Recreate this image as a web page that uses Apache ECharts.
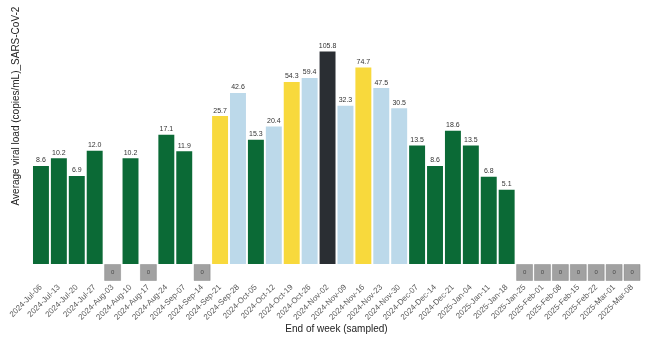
<!DOCTYPE html>
<html>
<head>
<meta charset="utf-8">
<script src="https://cdn.jsdelivr.net/npm/echarts@6/dist/echarts.min.js"></script>
<style>
  html, body { margin: 0; padding: 0; background: #fff; }
  #chart { width: 663px; height: 358px; }
</style>
</head>
<body>
<div id="chart"></div>
<script>
// Weekly sampling dates (end of week)
const weeks = ['2024-Jul-06','2024-Jul-13','2024-Jul-20','2024-Jul-27','2024-Aug-03','2024-Aug-10',
  '2024-Aug-17','2024-Aug-24','2024-Sep-07','2024-Sep-14','2024-Sep-21','2024-Sep-28','2024-Oct-05',
  '2024-Oct-12','2024-Oct-19','2024-Oct-26','2024-Nov-02','2024-Nov-09','2024-Nov-16','2024-Nov-23',
  '2024-Nov-30','2024-Dec-07','2024-Dec-14','2024-Dec-21','2025-Jan-04','2025-Jan-11','2025-Jan-18',
  '2025-Jan-25','2025-Feb-01','2025-Feb-08','2025-Feb-15','2025-Feb-22','2025-Mar-01','2025-Mar-08'];

// Average viral load (copies/mL), 0 = not detected
const viralLoad = [8.6, 10.2, 6.9, 12.0, 0, 10.2, 0, 17.1, 11.9, 0, 25.7, 42.6, 15.3, 20.4, 54.3, 59.4,
  105.8, 32.3, 74.7, 47.5, 30.5, 13.5, 8.6, 18.6, 13.5, 6.8, 5.1, 0, 0, 0, 0, 0, 0, 0];

// Level group per week: g = low, y = moderate, b = high, k = very high
const levelGroup = ['g','g','g','g','-','g','-','g','g','-','y','b','g','b','y','b',
  'k','b','y','b','b','g','g','g','g','g','g','-','-','-','-','-','-','-'];

const groupColors = { g: '#0b6a36', y: '#f8d93c', b: '#bcd9ea', k: '#2a2e33' };

const barData = viralLoad.map((v, i) => v > 0
  ? { value: v, itemStyle: { color: groupColors[levelGroup[i]] } }
  : '-');
const zeroData = viralLoad.map(v => v === 0 ? 0 : '-');

const chart = echarts.init(document.getElementById('chart'), null, { renderer: 'canvas' });

const font = 'Liberation Sans, Arial, sans-serif';

chart.setOption({
  animation: false,
  backgroundColor: '#ffffff',
  grid: [
    { left: 32, right: 22, top: 22.6, bottom: 94 },
    { left: 32, right: 22, top: 264, height: 17 }
  ],
  xAxis: [
    {
      type: 'category', gridIndex: 0, data: weeks,
      axisLine: { show: false }, axisTick: { show: false }, axisLabel: { show: false }
    },
    {
      type: 'category', gridIndex: 1, data: weeks,
      axisLine: { show: false }, axisTick: { show: false },
      axisLabel: { rotate: 45, fontSize: 8, color: '#5a5a5a', margin: 5, fontFamily: font, interval: 0 },
      name: 'End of week (sampled)', nameLocation: 'middle', nameGap: 41,
      nameTextStyle: { fontSize: 10, color: '#222', fontFamily: font }
    }
  ],
  yAxis: [
    {
      type: 'log', gridIndex: 0, logBase: 10, min: 1, max: 200,
      axisLine: { show: false }, axisTick: { show: false },
      axisLabel: { show: false }, splitLine: { show: false }
    },
    {
      type: 'value', gridIndex: 1, min: -1, max: 1,
      axisLine: { show: false }, axisTick: { show: false },
      axisLabel: { show: false }, splitLine: { show: false }
    }
  ],
  graphic: [{
    type: 'text', x: 16, y: 106, rotation: Math.PI / 2,
    style: {
      text: 'Average viral load (copies/mL)_SARS-CoV-2',
      fontSize: 10, fill: '#222', fontFamily: font,
      align: 'center', verticalAlign: 'middle'
    }
  }],
  series: [
    {
      type: 'bar', xAxisIndex: 0, yAxisIndex: 0,
      data: barData, barCategoryGap: '11%',
      label: {
        show: true, position: 'top', distance: 2, fontSize: 7, color: '#333', fontFamily: font,
        formatter: p => p.value.toFixed(1)
      }
    },
    {
      type: 'scatter', xAxisIndex: 1, yAxisIndex: 1,
      data: zeroData, symbol: 'rect', symbolSize: [16, 16],
      itemStyle: { color: '#8a8a8a', borderColor: '#777', borderWidth: 0.5 },
      label: {
        show: true, position: 'inside', fontSize: 6, color: '#333', fontFamily: font,
        formatter: p => String(p.value)
      }
    }
  ]
});
</script>
</body>
</html>
